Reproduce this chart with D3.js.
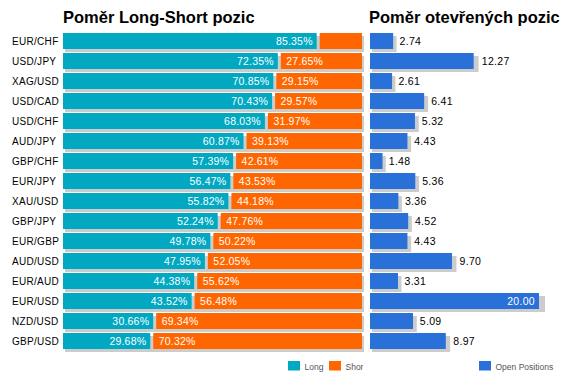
<!DOCTYPE html>
<html><head><meta charset="utf-8">
<script src="https://cdn.jsdelivr.net/npm/d3@7"></script>
<style>body{margin:0;background:#fff}svg{display:block}text{font-family:"Liberation Sans",Arial,sans-serif}</style>
</head><body><svg id="c" width="567" height="382"></svg>
<script>
const categories=["EUR/CHF","USD/JPY","XAG/USD","USD/CAD","USD/CHF","AUD/JPY","GBP/CHF","EUR/JPY","XAU/USD","GBP/JPY","EUR/GBP","AUD/USD","EUR/AUD","EUR/USD","NZD/USD","GBP/USD"];
const longPct=[85.35,72.35,70.85,70.43,68.03,60.87,57.39,56.47,55.82,52.24,49.78,47.95,44.38,43.52,30.66,29.68];
const shortPct=[14.65,27.65,29.15,29.57,31.97,39.13,42.61,43.53,44.18,47.76,50.22,52.05,55.62,56.48,69.34,70.32];
const openPos=[2.74,12.27,2.61,6.41,5.32,4.43,1.48,5.36,3.36,4.52,4.43,9.70,3.31,20.00,5.09,8.97];
const titles=["Poměr Long-Short pozic","Poměr otevřených pozic"];
const legendLabels=["Long","Short","Open Positions"];
const C={long:"#00A8C2",short:"#FF6600",open:"#2970D8",shadow:"#CCCCCC"};

const svg=d3.select("#c");
const y=d3.scaleBand().domain(categories).range([31,351]).paddingInner(0.2).paddingOuter(0.1);
const xL=d3.scaleLinear().domain([0,100]).range([63,362]);
const xR=d3.scaleLinear().domain([0,20]).range([370,539]);
const bh=16;
const rows=categories.map((c,i)=>({c,l:longPct[i],s:shortPct[i],o:openPos[i]}));
const yb=d=>y(d.c)+(y.bandwidth()-bh)/2;

// titles
svg.append("text").attr("x",63).attr("y",23).attr("font-size",16.5).attr("font-weight","bold").text(titles[0]);
svg.append("text").attr("x",369).attr("y",23).attr("font-size",16.5).attr("font-weight","bold").text(titles[1]);

// category labels
svg.selectAll(".cat").data(rows).join("text").attr("x",12).attr("y",d=>yb(d)+bh/2+3.5)
 .attr("font-size",10).attr("letter-spacing",0.3).text(d=>d.c);

// left shadows
svg.selectAll(".ls").data(rows).join("rect").attr("x",xL(0)+2).attr("y",d=>yb(d)+3)
 .attr("width",xL(100)-xL(0)).attr("height",bh).attr("fill",C.shadow);
// long
svg.selectAll(".lb").data(rows).join("rect").attr("x",xL(0)).attr("y",yb)
 .attr("width",d=>xL(d.l)-xL(0)-1.5).attr("height",bh).attr("fill",C.long);
// short
svg.selectAll(".sb").data(rows).join("rect").attr("x",d=>xL(d.l)+1.5).attr("y",yb)
 .attr("width",d=>xL(100)-xL(d.l)-1.5).attr("height",bh).attr("fill",C.short);
// long labels
svg.selectAll(".ll").data(rows).join("text").attr("x",d=>xL(d.l)-5.5).attr("y",d=>yb(d)+bh/2+4)
 .attr("text-anchor","end").attr("fill","#fff").attr("font-size",10.5).attr("letter-spacing",0.2)
 .text(d=>d.l.toFixed(2)+"%");
// short labels
svg.selectAll(".sl").data(rows.filter(d=>d.s>20)).join("text").attr("x",d=>xL(d.l)+7).attr("y",d=>yb(d)+bh/2+4)
 .attr("fill","#fff").attr("font-size",10.5).attr("letter-spacing",0.2)
 .text(d=>d.s.toFixed(2)+"%");

// right shadows
svg.selectAll(".rs").data(rows).join("rect").attr("x",xR(0)+2).attr("y",d=>yb(d)+3)
 .attr("width",d=>(xR(d.o)-xR(0))*1.018+1).attr("height",bh).attr("fill",C.shadow);
svg.selectAll(".rb").data(rows).join("rect").attr("x",xR(0)).attr("y",yb)
 .attr("width",d=>xR(d.o)-xR(0)).attr("height",bh).attr("fill",C.open);
svg.selectAll(".rl").data(rows).join("text")
 .attr("x",d=>d.o>=15?xR(d.o)-4:xR(d.o)+(xR(d.o)-xR(0))*0.02+6)
 .attr("y",d=>yb(d)+bh/2+4).attr("text-anchor",d=>d.o>=15?"end":"start")
 .attr("fill",d=>d.o>=15?"#fff":"#000").attr("font-size",10.5).attr("letter-spacing",0.3)
 .text(d=>d.o.toFixed(2));

// legend
svg.append("clipPath").attr("id","lc").append("rect").attr("x",0).attr("y",0).attr("width",363).attr("height",382);
const lg=[{x:288,c:C.long,t:legendLabels[0]},{x:329,c:C.short,t:legendLabels[1]},{x:479,c:C.open,t:legendLabels[2]}];
const g=svg.append("g").attr("clip-path","url(#lc)");
lg.forEach((d,i)=>{
 const tg=i<2?g:svg;
 tg.append("rect").attr("x",d.x).attr("y",361).attr("width",12).attr("height",9.5).attr("fill",d.c);
 tg.append("text").attr("x",d.x+16.5).attr("y",369.5).attr("font-size",8.5).attr("fill","#555").text(d.t);
});
</script></body></html>
